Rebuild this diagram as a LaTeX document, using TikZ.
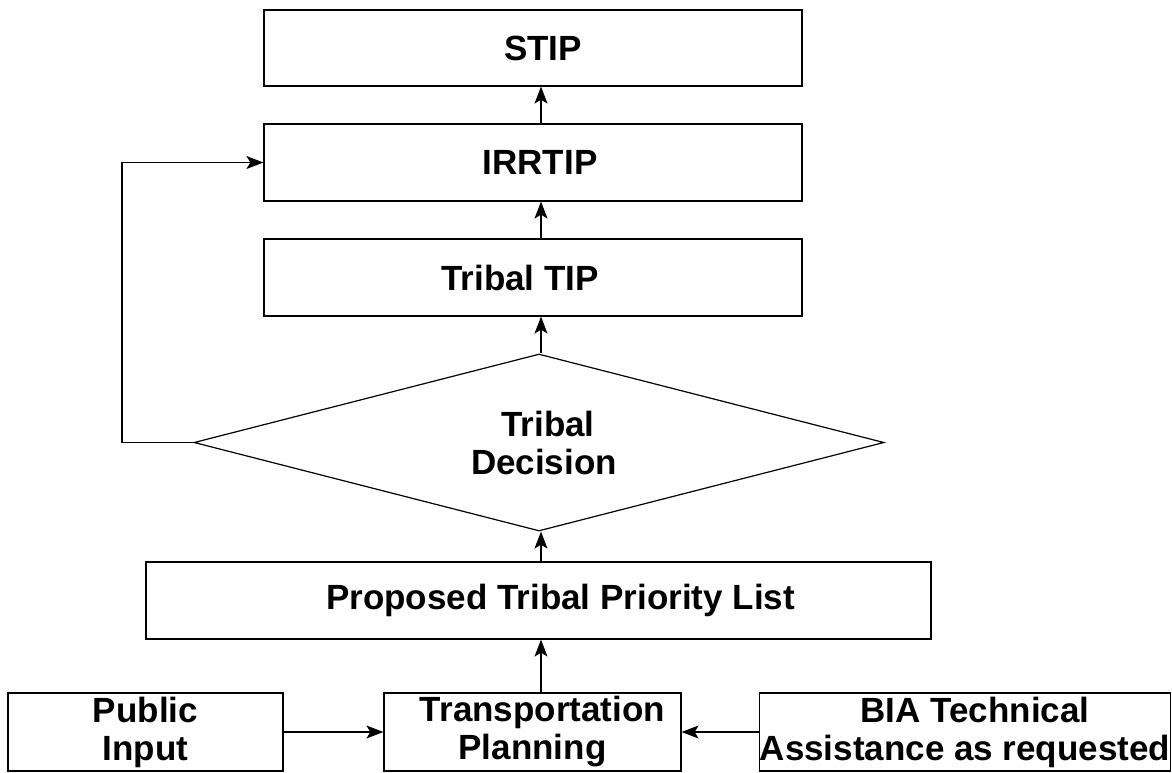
\documentclass[tikz,border=0pt]{standalone}
\usepackage{fontspec}
\setmainfont{Liberation Sans}
\usepackage{tikz}
\usetikzlibrary{arrows.meta, positioning, shapes.geometric}

\newcommand{\nudge}[1]{\hspace*{#1}}

\tikzset{
  stepbox/.style={draw, line width=1.2pt, inner sep=0pt, align=center,
    font=\fontsize{35}{38}\selectfont\bfseries},
  flow/.style={-{Stealth[length=17pt, width=13pt, inset=4pt]}, line width=1.1pt}
}

\begin{document}
\begin{tikzpicture}[x=1pt, y=-1pt]
\useasboundingbox (0,0) rectangle (1172,772);

% Upper chain
\node[stepbox, minimum width=538pt, minimum height=76pt] (stip) at (533,48) {\nudge{20pt}STIP};
\node[stepbox, minimum width=538pt, minimum height=77pt] (irrtip) at (533,162.5) {\nudge{14pt}IRRTIP};
\node[stepbox, minimum width=538pt, minimum height=77pt] (tribaltip) at (533,277.5) {Tribal TIP\nudge{26pt}};

% Decision
\node[stepbox, diamond, aspect=3.9, minimum width=690pt, minimum height=177pt] (decision) at (539,442.5) {\nudge{18pt}Tribal\\\nudge{10pt}Decision};

% Priority list
\node[stepbox, minimum width=785pt, minimum height=77pt] (proposed) at (538.5,600.5) {\nudge{44pt}Proposed Tribal Priority List};

% Inputs
\node[stepbox, minimum width=275pt, minimum height=78pt] (public) at (145.5,732) {Public\\Input};
\node[stepbox, minimum width=297pt, minimum height=78pt] (transport) at (532.5,732) {\nudge{20pt}Transportation\\Planning};
\node[stepbox, minimum width=410pt, minimum height=78pt] (bia) at (965,732) {\nudge{20pt}BIA Technical\\Assistance as requested};

\coordinate (loopx) at (122,0);
\coordinate (upx) at (541,0);

% Connectors
\draw[flow] (public.east) -- (transport.west);
\draw[flow] (bia.west) -- (transport.east);
\draw[flow] (transport.north -| upx) -- (proposed.south -| upx);
\draw[flow] (proposed.north -| upx) -- (decision.south -| upx);
\draw[flow] (decision.north -| upx) -- (tribaltip.south -| upx);
\draw[flow] (tribaltip.north -| upx) -- (irrtip.south -| upx);
\draw[flow] (irrtip.north -| upx) -- (stip.south -| upx);
\draw[flow] (decision.west) -- (decision.west -| loopx) |- (irrtip.west);
\end{tikzpicture}
\end{document}
